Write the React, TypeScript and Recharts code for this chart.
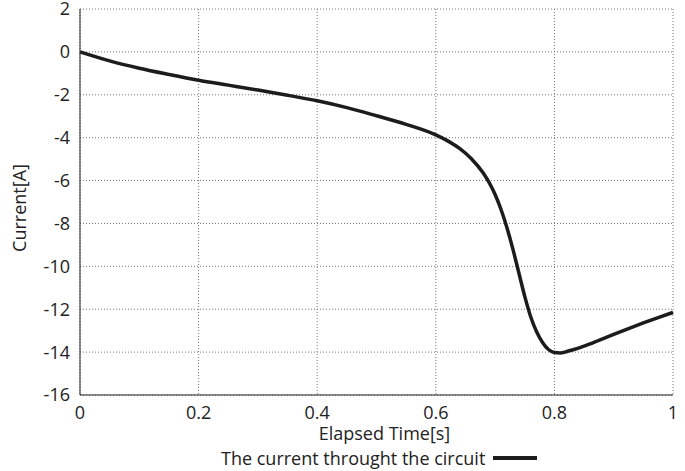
import { LineChart, Line, XAxis, YAxis, CartesianGrid } from "recharts";

const times = [
  0, 0.05, 0.1, 0.15, 0.2, 0.25, 0.3, 0.35, 0.4, 0.45, 0.5, 0.55, 0.6, 0.62, 0.64, 0.66, 0.68, 0.69,
  0.7, 0.71, 0.72, 0.73, 0.74, 0.75, 0.76, 0.77, 0.78, 0.79, 0.8, 0.81, 0.82, 0.83, 0.85, 0.875, 0.9,
  0.925, 0.95, 0.975, 1.0,
];
const currents = [
  0, -0.42, -0.76, -1.05, -1.32, -1.55, -1.78, -2.02, -2.28, -2.6, -2.98, -3.38, -3.87, -4.15, -4.5,
  -4.98, -5.65, -6.1, -6.65, -7.35, -8.2, -9.2, -10.3, -11.4, -12.35, -13.05, -13.55, -13.88, -14.02,
  -14.04, -13.98, -13.9, -13.72, -13.45, -13.17, -12.9, -12.64, -12.39, -12.15,
];
const xTicks = [0, 0.2, 0.4, 0.6, 0.8, 1];
const yTicks = [-16, -14, -12, -10, -8, -6, -4, -2, 0, 2];

const chartData = times.map((t, i) => ({ t, current: currents[i] }));

const FONT = "'Open Sans', sans-serif";
const tickStyle = { fill: "#222", fontSize: 18, fontFamily: FONT };

export default function App() {
  return (
    <div style={{ position: "absolute", left: 0, top: 0, width: 685, height: 471, background: "#fff" }}>
      <LineChart width={685} height={471} data={chartData} margin={{ top: 9, right: 12, left: 0, bottom: 46 }}>
        <CartesianGrid strokeDasharray="1 2" stroke="#777" />
        <XAxis
          dataKey="t"
          type="number"
          domain={[0, 1]}
          ticks={xTicks}
          interval={0}
          height={30}
          tickSize={0}
          tickMargin={11}
          stroke="#222"
          tick={tickStyle}
          label={{ value: "Elapsed Time[s]", position: "bottom", offset: 2, dx: 8, fill: "#222", fontSize: 18, fontFamily: FONT }}
        />
        <XAxis xAxisId="top" orientation="top" type="number" domain={[0, 1]} height={0} tick={false} tickLine={false} stroke="#222" />
        <YAxis
          type="number"
          domain={[-16, 2]}
          ticks={yTicks}
          interval={0}
          width={80}
          tickSize={0}
          tickMargin={10}
          stroke="#222"
          tick={tickStyle}
          label={() => (
            <text
              x={19}
              y={208}
              transform="rotate(-90 19 208)"
              textAnchor="middle"
              dominantBaseline="central"
              fill="#222"
              fontSize={18}
              fontFamily={FONT}
            >
              Current[A]
            </text>
          )}
        />
        <YAxis yAxisId="right" orientation="right" type="number" domain={[-16, 2]} width={0} tick={false} tickLine={false} stroke="#222" />
        <Line
          type="monotone"
          dataKey="current"
          stroke="#1c1c1c"
          strokeWidth={3.5}
          dot={false}
          isAnimationActive={false}
          name="The current throught the circuit"
        />
      </LineChart>
      <div
        style={{
          position: "absolute",
          left: 221,
          top: 446,
          display: "flex",
          alignItems: "center",
          fontFamily: FONT,
          fontSize: 18,
          color: "#222",
          whiteSpace: "nowrap",
        }}
      >
        <span>The current throught the circuit</span>
        <div style={{ width: 44, height: 4, background: "#1c1c1c", marginLeft: 8 }}></div>
      </div>
    </div>
  );
}
